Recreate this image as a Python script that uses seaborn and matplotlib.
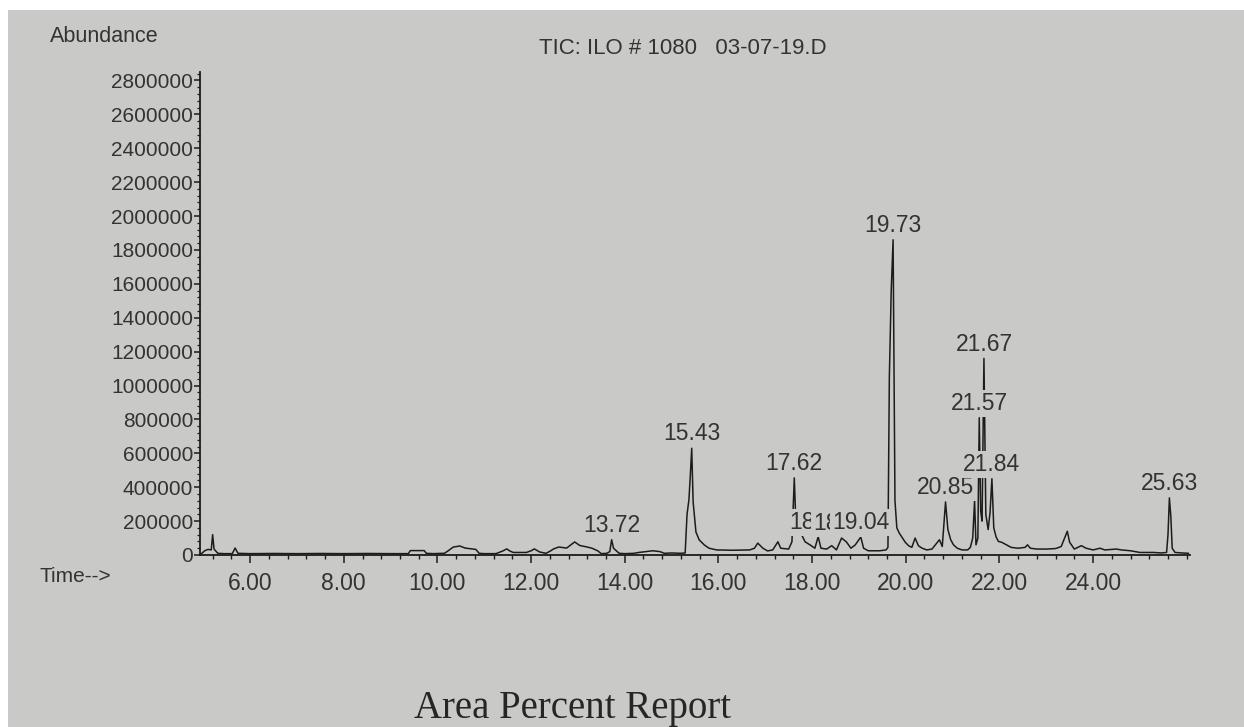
import matplotlib
matplotlib.use("Agg")
import matplotlib.pyplot as plt
import seaborn as sns
import numpy as np
import pandas as pd
from matplotlib.ticker import MultipleLocator, FixedLocator, FixedFormatter
from matplotlib.patches import Rectangle

# ---------------- data ----------------
rt_min = [4.93, 4.97, 5.03, 5.10, 5.17, 5.20, 5.23, 5.31, 5.45, 5.62, 5.68, 5.74,
          6.00, 6.50, 7.00, 7.50, 8.00, 8.50, 9.00, 9.38, 9.42, 9.72, 9.76, 9.90,
          10.15, 10.22, 10.34, 10.48, 10.59, 10.82, 10.89, 11.00, 11.25, 11.39, 11.48,
          11.55, 11.62, 11.90, 12.00, 12.07, 12.18, 12.32, 12.42, 12.48, 12.59, 12.76,
          12.85, 12.93, 13.04, 13.20, 13.30, 13.42, 13.50, 13.62, 13.68, 13.72, 13.76,
          13.82, 13.88, 14.00, 14.20, 14.30, 14.45, 14.60, 14.75, 14.85, 15.00, 15.20,
          15.29, 15.33, 15.37, 15.40, 15.43, 15.46, 15.52, 15.59, 15.70, 15.80, 15.96,
          16.30, 16.67, 16.77, 16.84, 16.95, 17.05, 17.16, 17.27, 17.33, 17.50, 17.57,
          17.62, 17.66, 17.70, 17.78, 17.85, 17.96, 18.06, 18.13, 18.19, 18.31, 18.42,
          18.52, 18.63, 18.73, 18.83, 18.92, 19.04, 19.10, 19.20, 19.45, 19.58, 19.62,
          19.65, 19.69, 19.73, 19.77, 19.81, 19.86, 19.93, 19.99, 20.06, 20.13, 20.20,
          20.27, 20.35, 20.45, 20.56, 20.66, 20.72, 20.78, 20.85, 20.90, 20.96, 21.02,
          21.10, 21.20, 21.32, 21.38, 21.43, 21.47, 21.50, 21.54, 21.57, 21.60, 21.63,
          21.67, 21.71, 21.76, 21.80, 21.84, 21.88, 21.93, 21.98, 22.05, 22.15, 22.25,
          22.40, 22.55, 22.60, 22.66, 22.80, 23.00, 23.20, 23.32, 23.45, 23.50, 23.60,
          23.75, 23.85, 24.00, 24.15, 24.25, 24.50, 24.60, 24.80, 25.00, 25.30, 25.45,
          25.57, 25.60, 25.63, 25.66, 25.69, 25.75, 25.90, 26.04]
abundance = [5000, 10000, 25000, 33000, 30000, 120000, 35000, 10000, 8000, 8000, 41000, 10000,
             8000, 9000, 8000, 9000, 8000, 9000, 8000, 8000, 26000, 26000, 10000, 8000,
             10000, 23000, 47000, 53000, 41000, 33000, 10000, 8000, 8000, 23000, 36000,
             23000, 15000, 15000, 25000, 36000, 18000, 10000, 25000, 36000, 47000, 41000,
             60000, 77000, 56000, 47000, 40000, 25000, 8000, 10000, 20000, 90000, 40000,
             25000, 10000, 8000, 10000, 15000, 20000, 25000, 20000, 10000, 12000, 10000,
             12000, 240000, 325000, 470000, 630000, 313000, 136000, 89000, 59000, 40000, 30000,
             28000, 30000, 40000, 70000, 40000, 24000, 30000, 78000, 40000, 35000, 78000,
             455000, 148000, 148000, 118000, 78000, 59000, 40000, 108000, 40000, 35000, 55000,
             30000, 100000, 78000, 40000, 59000, 106000, 40000, 25000, 25000, 30000, 45000,
             1050000, 1560000, 1860000, 320000, 160000, 130000, 100000, 75000, 55000, 45000, 100000,
             55000, 40000, 30000, 35000, 70000, 90000, 50000, 313000, 150000, 90000, 60000,
             40000, 30000, 30000, 45000, 100000, 320000, 60000, 100000, 810000, 260000, 200000,
             1160000, 240000, 150000, 250000, 450000, 160000, 106000, 80000, 75000, 60000, 45000,
             40000, 45000, 60000, 40000, 35000, 35000, 38000, 50000, 140000, 75000, 35000,
             55000, 40000, 30000, 40000, 30000, 35000, 30000, 25000, 15000, 15000, 12000,
             15000, 120000, 337000, 230000, 40000, 15000, 12000, 10000]

peak_times = [13.72, 15.43, 17.62, 18.13, 18.63, 19.04, 19.73, 20.85, 21.57, 21.67, 21.84, 25.63]
peak_labels = ["13.72", "15.43", "17.62", "18.13", "18.63", "19.04", "19.73", "20.85",
               "21.57", "21.67", "21.84", "25.63"]

x_ticks = [6, 8, 10, 12, 14, 16, 18, 20, 22, 24]
x_tick_labels = ["6.00", "8.00", "10.00", "12.00", "14.00", "16.00", "18.00", "20.00", "22.00", "24.00"]
y_ticks = [0, 200000, 400000, 600000, 800000, 1000000, 1200000, 1400000, 1600000,
           1800000, 2000000, 2200000, 2400000, 2600000, 2800000]
y_tick_labels = ["0", "200000", "400000", "600000", "800000", "1000000", "1200000", "1400000",
                 "1600000", "1800000", "2000000", "2200000", "2400000", "2600000", "2800000"]

title_text = "TIC: ILO # 1080   03-07-19.D"
y_title = "Abundance"
x_title = "Time-->"
footer_text = "Area Percent Report"

# ---------------- style ----------------
PAPER = "#c9cac7"
INK = "#1c1c1c"
TXT = "#333333"

sns.set_style("ticks")
plt.rcParams["font.family"] = ["Liberation Sans", "DejaVu Sans"]

W, H = 1244, 727
fig = plt.figure(figsize=(W / 100, H / 100), dpi=100, facecolor=PAPER)
ax = fig.add_axes([200 / W, (H - 555) / H, (1190 - 200) / W, (555 - 72) / H])
ax.set_facecolor("none")

df = pd.DataFrame({"rt": rt_min, "abundance": abundance})
sns.lineplot(data=df, x="rt", y="abundance", estimator=None, sort=False,
             color=INK, linewidth=1.1, ax=ax, zorder=2)

ax.set_xlim(4.93, 26.07)
ax.set_ylim(0, 2850000)

ax.xaxis.set_major_locator(FixedLocator(x_ticks))
ax.xaxis.set_major_formatter(FixedFormatter(x_tick_labels))
ax.xaxis.set_minor_locator(MultipleLocator(0.4))
ax.yaxis.set_major_locator(FixedLocator(y_ticks))
ax.yaxis.set_major_formatter(FixedFormatter(y_tick_labels))
ax.yaxis.set_minor_locator(MultipleLocator(40000))

ax.tick_params(axis="x", which="major", direction="out", length=6, width=1.1,
               color=INK, labelsize=16.5, labelcolor=TXT, pad=6)
ax.tick_params(axis="x", which="minor", direction="out", length=3, width=1.0, color=INK)
ax.tick_params(axis="y", which="major", direction="out", length=4, width=1.1,
               color=INK, labelsize=15, labelcolor=TXT, pad=1)
ax.tick_params(axis="y", which="minor", direction="out", length=2, width=0.9, color=INK)

sns.despine(ax=ax, top=True, right=True)
for s in ("left", "bottom"):
    ax.spines[s].set_color(INK)
    ax.spines[s].set_linewidth(1.3)
ax.set_xlabel("")
ax.set_ylabel("")

# peak labels (opaque background, later labels cover earlier ones, as on the printout)
rt_arr = np.asarray(rt_min)
ab_arr = np.asarray(abundance)
for i, (t, lab) in enumerate(zip(peak_times, peak_labels)):
    apex = ab_arr[np.argmin(np.abs(rt_arr - t))]
    ax.annotate(lab, xy=(t, apex), xytext=(0, 2), textcoords="offset points",
                ha="center", va="bottom", fontsize=16.5, color=TXT, zorder=5 + i,
                bbox=dict(boxstyle="square,pad=0.08", facecolor=PAPER, edgecolor="none"),
                annotation_clip=False)

# texts around the plot
fig.text(50 / W, 1 - 37 / H, y_title, ha="left", va="center", fontsize=15.5, color=TXT)
fig.text(683 / W, 1 - 48 / H, title_text, ha="center", va="center", fontsize=16, color=TXT)
fig.text(40 / W, 1 - 577 / H, x_title, ha="left", va="center", fontsize=15, color=TXT)
fig.text(573 / W, 1 - 718 / H, footer_text, ha="center", va="baseline", fontsize=28,
         color="#262626", family=["Liberation Serif", "DejaVu Serif"])

# photo border (white paper edge at top and left)
fig.patches.append(Rectangle((0, 1 - 10 / H), 1, 10 / H, transform=fig.transFigure,
                             facecolor="white", edgecolor="none", zorder=0))
fig.patches.append(Rectangle((0, 0), 8 / W, 1, transform=fig.transFigure,
                             facecolor="white", edgecolor="none", zorder=0))

fig.savefig("out.png", dpi=100, facecolor=PAPER)
